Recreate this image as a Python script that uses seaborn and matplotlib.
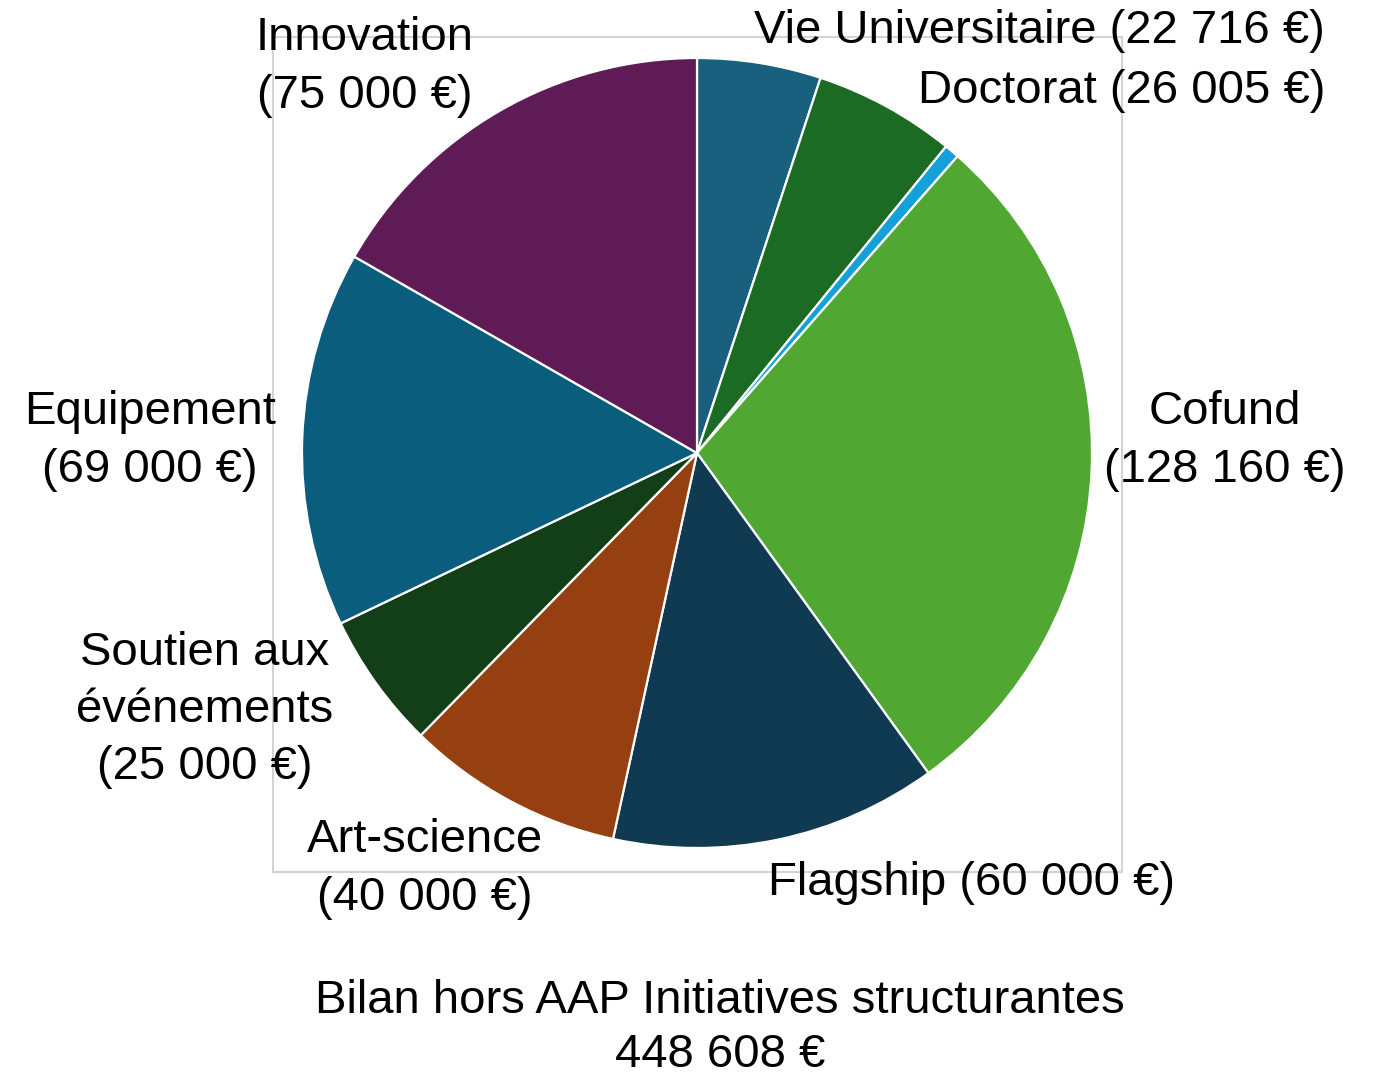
import numpy as np
import seaborn as sns
from matplotlib import pyplot as plt

# donnees (sens horaire depuis le haut)
categories = ["Vie Universitaire", "Doctorat", "", "Cofund", "Flagship",
              "Art-science", "Soutien aux\névénements", "Equipement", "Innovation"]
montants = [22716, 26005, 2727, 128160, 60000, 40000, 25000, 69000, 75000]
etiquettes = ["Vie Universitaire (22 716 €)", "Doctorat (26 005 €)", "",
              "Cofund\n(128 160 €)", "Flagship (60 000 €)", "Art-science\n(40 000 €)",
              "Soutien aux\névénements\n(25 000 €)", "Equipement\n(69 000 €)",
              "Innovation\n(75 000 €)"]
couleurs = ["#19607f", "#1c6b24", "#14a0d8", "#50a832", "#103a51",
            "#964011", "#123f17", "#0b5d7e", "#5f1b56"]
titre = "Bilan hors AAP Initiatives structurantes\n448 608 €"

# position des etiquettes (pixels de l'image)
pos_px = [(1039, 31), (1122, 91), None, (1225, 441), (972, 883),
          (425, 869), (205, 710), (150, 441), (365, 67)]

sns.set_theme(style="white")
plt.rcParams["font.family"] = ["Liberation Sans", "DejaVu Sans"]

W, H = 1375, 1077
fig = plt.figure(figsize=(W / 100, H / 100), dpi=100)
ax = fig.add_axes([273 / W, (H - 872) / H, 849 / W, 835 / H])

cx, cy, r = 697, 453, 395
ax.pie(montants, colors=couleurs, startangle=90, counterclock=False,
       center=(0, 0), radius=1,
       wedgeprops={"edgecolor": "white", "linewidth": 1.6})
ax.set_aspect("auto")
ax.set_frame_on(True)
ax.set_xlim((273 - cx) / r, (1122 - cx) / r)
ax.set_ylim((cy - 872) / r, (cy - 37) / r)
for s in ax.spines.values():
    s.set_visible(True)
    s.set_color("#d3d3d3")
    s.set_linewidth(1.5)

for txt, p in zip(etiquettes, pos_px):
    if p is None:
        continue
    ax.text((p[0] - cx) / r, (cy - p[1]) / r, txt, ha="center", va="center",
            fontsize=34, linespacing=1.39, color="black", clip_on=False, zorder=5)

fig.text(720 / W, 1 - 1028 / H, titre, ha="center", va="center",
         fontsize=34, linespacing=1.32, color="black")

fig.savefig("out.png", dpi=100)
